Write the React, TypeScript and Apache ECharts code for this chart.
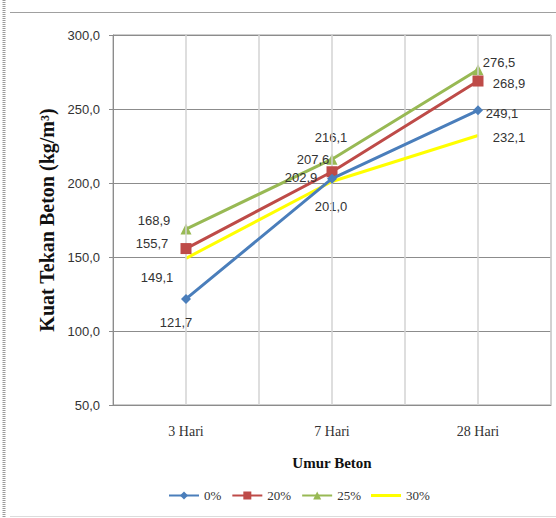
import React, { useEffect, useRef } from "react";
import * as echarts from "echarts";

const categories = ["3 Hari", "7 Hari", "28 Hari"];
const seriesNames = ["0%", "20%", "25%", "30%"];
const values0 = [121.7, 202.9, 249.1];
const values20 = [155.7, 207.6, 268.9];
const values25 = [168.9, 216.1, 276.5];
const values30 = [149.1, 201.0, 232.1];

const yMin = 50;
const yMax = 300;
const yInterval = 50;

const colors = ["#4A7EBB", "#BE4B48", "#98B954", "#FFFF00"];
const symbols = ["diamond", "rect", "triangle", "circle"];
const symbolSizes = [10, 11, 11, 1];
// label offsets relative to each point [dx, dy]
const labelOffsets = [
  [[-10, 24], [-31, -1], [24, 3]],
  [[-34, -5], [-19, -12], [31, 2]],
  [[-32, -9], [-1, -22], [21, -7]],
  [[-29, 19], [-1, 25], [31, 2]],
];

const fmt = (v: number) => v.toFixed(1).replace(".", ",");
const numFont = "'Liberation Sans Narrow', 'Liberation Sans', Arial, sans-serif";
const serif = "'Liberation Serif', 'Times New Roman', serif";

export default function App() {
  const ref = useRef<HTMLDivElement>(null);
  useEffect(() => {
    if (!ref.current) return;
    const chart = echarts.init(ref.current, undefined, { renderer: "svg" });
    const allValues = [values0, values20, values25, values30];
    const series = allValues.map((vals, si) => ({
      name: seriesNames[si],
      type: "line",
      data: vals.map((v, i) => ({
        value: v,
        label: {
          offset: labelOffsets[si][i],
        },
      })),
      symbol: symbols[si],
      symbolSize: symbolSizes[si],
      lineStyle: { color: colors[si], width: 3 },
      itemStyle: { color: colors[si] },
      label: {
        show: true,
        position: "inside",
        align: "center",
        verticalAlign: "middle",
        formatter: (p: any) => fmt(p.value),
        color: "#333",
        fontFamily: numFont,
        fontSize: 13,
      },
      z: 3 + (3 - si),
    }));
    chart.setOption({
      animation: false,
      backgroundColor: "#ffffff",
      grid: {
        left: 113,
        right: 5,
        top: 35,
        bottom: 113,
        show: true,
        borderColor: "#9a9a9a",
        borderWidth: 1,
      },
      legend: {
        data: [
          { name: "0%" },
          { name: "20%" },
          { name: "25%" },
          { name: "30%", icon: "path://M0,0 H30 V3 H0 Z" },
        ],
        left: 163,
        top: 484,
        itemWidth: 30,
        itemHeight: 10,
        itemGap: 10,
        textStyle: { fontFamily: serif, fontSize: 13, color: "#333" },
      },
      xAxis: {
        type: "category",
        data: categories,
        boundaryGap: true,
        axisLine: { lineStyle: { color: "#8c8c8c", width: 1 } },
        axisTick: { show: false },
        axisLabel: { fontFamily: serif, fontSize: 14, color: "#333", margin: 19 },
        splitLine: { show: true, lineStyle: { color: "#d3d3d3", width: 1.5 } },
        name: "Umur Beton",
        nameLocation: "middle",
        nameGap: 50,
        nameTextStyle: { fontFamily: serif, fontSize: 15, fontWeight: "bold", color: "#111" },
      },
      yAxis: {
        type: "value",
        min: yMin,
        max: yMax,
        interval: yInterval,
        axisLine: { show: true, lineStyle: { color: "#8c8c8c", width: 1 } },
        axisTick: { show: true, length: 4, lineStyle: { color: "#8c8c8c" } },
        axisLabel: {
          formatter: (v: number) => fmt(v),
          fontFamily: numFont,
          fontSize: 13,
          color: "#333",
          margin: 13,
        },
        splitLine: { show: true, lineStyle: { color: "#8c8c8c", width: 1 } },
        name: "Kuat Tekan Beton (kg/m³)",
        nameLocation: "middle",
        nameRotate: 90,
        nameGap: 52,
        nameTextStyle: { fontFamily: serif, fontSize: 20, fontWeight: "bold", color: "#111" },
      },
      series: [
        ...series,
        {
          type: "line",
          data: [],
          silent: true,
          markLine: {
            silent: true,
            symbol: "none",
            label: { show: false },
            lineStyle: { color: "#d3d3d3", width: 1.5, type: "solid" },
            data: categories.map((c) => ({ xAxis: c })),
          },
          z: 1,
        },
      ],
      graphic: [
        {
          type: "line",
          shape: { x1: 10, y1: 12.5, x2: 556, y2: 12.5 },
          style: { stroke: "#a0a0a0", lineWidth: 1 },
        },
        {
          type: "line",
          shape: { x1: 10, y1: 516.5, x2: 556, y2: 516.5 },
          style: { stroke: "#dcdcdc", lineWidth: 1 },
        },
        {
          type: "line",
          shape: { x1: 4, y1: 0, x2: 4, y2: 518 },
          style: { stroke: "#9a9a9a", lineWidth: 3, lineDash: [1, 1] },
        },
      ],
    });
    return () => chart.dispose();
  }, []);
  return (
    <div
      ref={ref}
      style={{ position: "fixed", left: 0, top: 0, width: 556, height: 518 }}
    />
  );
}
